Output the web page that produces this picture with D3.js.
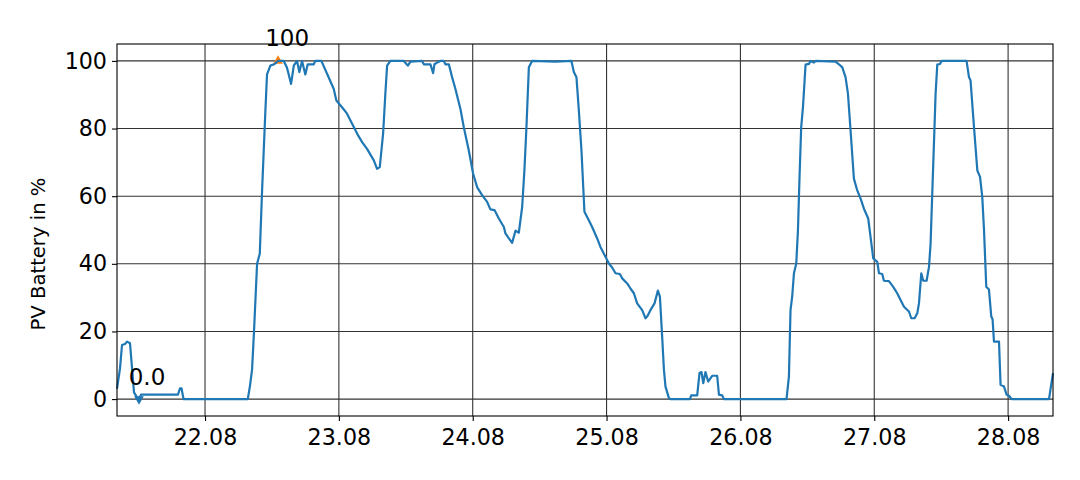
<!DOCTYPE html>
<html><head><meta charset="utf-8">
<script src="https://cdn.jsdelivr.net/npm/d3@7"></script>
<style>
body{margin:0;background:#fff;}
svg{display:block;font-family:"DejaVu Sans",sans-serif;}
</style></head>
<body><svg id="c" width="1080" height="480"></svg>
<script>
const stamps = ["21.08 08:13","21.08 08:45","21.08 09:07","21.08 09:39","21.08 10:01","21.08 10:33","21.08 11:16","21.08 11:48","21.08 12:10","21.08 12:31","21.08 12:53","21.08 19:09","21.08 19:31","21.08 19:47","21.08 20:09",
"22.08 07:40","22.08 08:04","22.08 08:26","22.08 08:47","22.08 09:20","22.08 09:49","22.08 10:13","22.08 10:49","22.08 11:07","22.08 11:43","22.08 12:23","22.08 13:06","22.08 14:07","22.08 14:42","22.08 15:26","22.08 15:55","22.08 16:30","22.08 16:55","22.08 17:24","22.08 17:59","22.08 18:25","22.08 19:30","22.08 19:47","22.08 20:52","22.08 21:53","22.08 23:05","22.08 23:33",
"23.08 00:34","23.08 01:28","23.08 03:16","23.08 04:10","23.08 05:03","23.08 06:16","23.08 06:51","23.08 07:20","23.08 07:56","23.08 08:20","23.08 08:39","23.08 09:14","23.08 11:38","23.08 12:22","23.08 12:50","23.08 14:55","23.08 15:14","23.08 16:25","23.08 16:54","23.08 17:08","23.08 17:37","23.08 18:12","23.08 18:49","23.08 19:06","23.08 19:43","23.08 20:18","23.08 20:54","23.08 21:20","23.08 21:48","23.08 22:24","23.08 23:18",
"24.08 00:04","24.08 00:47","24.08 01:41","24.08 02:35","24.08 03:10","24.08 03:54","24.08 04:41","24.08 05:35","24.08 05:52","24.08 06:29","24.08 07:04","24.08 07:40","24.08 08:16","24.08 08:52","24.08 09:16","24.08 09:38","24.08 10:04","24.08 10:39","24.08 14:50","24.08 17:42","24.08 18:08","24.08 18:36","24.08 19:02","24.08 19:30","24.08 20:02","24.08 20:49","24.08 21:25","24.08 22:19","24.08 22:54","24.08 23:48",
"25.08 00:25","25.08 01:00","25.08 01:36","25.08 02:23","25.08 02:48","25.08 03:42","25.08 04:17","25.08 04:54","25.08 05:29","25.08 06:23","25.08 06:59","25.08 07:17","25.08 07:52","25.08 08:36","25.08 09:12","25.08 09:34","25.08 09:58","25.08 10:17","25.08 10:34","25.08 11:11","25.08 11:28","25.08 14:57","25.08 15:11","25.08 16:15","25.08 16:40","25.08 17:01","25.08 17:20","25.08 17:44","25.08 18:13","25.08 18:56","25.08 19:50","25.08 20:09","25.08 20:44","25.08 21:02",
"26.08 08:16","26.08 08:42","26.08 08:59","26.08 09:17","26.08 09:36","26.08 10:01","26.08 10:19","26.08 10:36","26.08 10:54","26.08 11:13","26.08 11:41","26.08 12:17","26.08 12:34","26.08 13:11","26.08 13:28","26.08 17:03","26.08 17:40","26.08 18:16","26.08 18:51","26.08 19:17","26.08 19:45","26.08 20:21","26.08 20:57","26.08 21:33","26.08 22:09","26.08 22:55","26.08 23:20","26.08 23:49",
"27.08 00:32","27.08 00:51","27.08 01:26","27.08 01:44","27.08 02:38","27.08 03:24","27.08 04:07","27.08 04:43","27.08 05:20","27.08 06:13","27.08 06:38","27.08 07:14","27.08 07:43","27.08 08:01","27.08 08:26","27.08 08:47","27.08 09:23","27.08 09:49","27.08 10:06","27.08 10:24","27.08 10:42","27.08 11:00","27.08 11:18","27.08 11:47","27.08 12:04","27.08 16:33","27.08 16:59","27.08 17:16","27.08 17:53","27.08 18:29","27.08 18:58","27.08 19:22","27.08 19:41","27.08 20:05","27.08 20:34","27.08 20:59","27.08 21:13","27.08 21:28","27.08 22:22","27.08 22:39","27.08 23:16","27.08 23:44",
"28.08 00:10","28.08 00:38","28.08 07:20","28.08 08:03"];
const battery = [3,9,16,16.3,17,16.5,2,0.5,0,1.3,1.3,1.3,3.2,3.2,0,
0,4,8.7,20,40,43,61,85,96,98.6,99,100,100,98,93.2,98.6,100,96.7,100,96,99,99,100,100,96.2,91.7,88.3,
86.3,84.4,78.5,76,74,70.6,68.1,68.6,78.5,90.3,98.6,100,100,98.6,99.8,100,99,99,96.4,99,99.5,100,100,99,99,95.2,91.7,88.8,85.8,80.4,73.5,
66.7,62.7,60.3,58.3,56.1,55.9,53.4,50.9,49,47.5,46.2,49.8,49.2,56.8,67.6,80.4,98.1,100,99.8,100,96.7,95.2,85.3,73.5,55.4,52.9,50.9,47.5,45,42.1,
40.1,38.9,37.2,37,35.7,34.2,32.7,31.3,28.3,26.3,23.9,24.4,26.3,28.3,32.1,30.3,18.5,8.7,3.7,0.3,0,0,1.1,1.1,7.7,8,4.7,8,5.2,6.9,6.9,1.3,1.1,0,
0,6.7,26.3,30.3,37.2,40.1,49.9,65.7,80.4,86.3,98.9,99.1,100,99.5,100,99.8,99,98.1,95.2,90.3,79.5,65.2,61.7,59.3,56.3,53.4,48,41.6,
40.6,37.2,37,35,34.9,33.2,31.3,29.3,27.3,25.9,23.9,23.9,25.4,28.3,37.2,35,35,39.1,46,60.8,75.5,90.3,98.9,99.1,100,100,95.2,94.2,80.4,67.6,65.7,59.8,49.9,33.2,32.4,24.4,23.6,17,17,4.2,3.7,1.3,
1,0,0,7.7];
const xTickLabels = ["22.08","23.08","24.08","25.08","26.08","27.08","28.08"];
const yTicks = [0,20,40,60,80,100];
const yLabel = "PV Battery in %";

const parse = d3.timeParse("%d.%m.%Y %H:%M");
const data = stamps.map((s,i)=>({t: parse(s.replace(" ", ".2023 ")), v: battery[i]}));

const FS = 22.2, FA = 23, FL = 19.6;
const m = {l:117, t:44, r:1053, b:416};
const svg = d3.select("#c");
svg.append("rect").attr("width",1080).attr("height",480).attr("fill","#fff");

const x = d3.scaleTime().domain(d3.extent(data, d=>d.t)).range([m.l, m.r]);
const y = d3.scaleLinear().domain([-5, 105]).range([m.b, m.t]);
const xTicks = xTickLabels.map(s=>parse(s+".2023 00:00"));

// grid
const g = svg.append("g");
g.selectAll(".gx").data(xTicks).join("line")
  .attr("x1",d=>x(d)).attr("x2",d=>x(d)).attr("y1",m.t).attr("y2",m.b)
  .attr("stroke","#333").attr("stroke-width",1.1);
g.selectAll(".gy").data(yTicks).join("line")
  .attr("x1",m.l).attr("x2",m.r).attr("y1",d=>y(d)).attr("y2",d=>y(d))
  .attr("stroke","#333").attr("stroke-width",1.1);

// extreme markers
const iMax = d3.maxIndex(data, d=>d.v), iMin = d3.minIndex(data, d=>d.v);
const tri = d3.symbol().type(d3.symbolTriangle).size(40);
svg.append("path").attr("d",tri())
  .attr("transform",`translate(${x(data[iMax].t)},${y(data[iMax].v)})`).attr("fill","#ff7f0e");
svg.append("path").attr("d",tri())
  .attr("transform",`translate(${x(data[iMin].t)},${y(data[iMin].v)}) rotate(180)`).attr("fill","#1f77b4");

// line
const line = d3.line().x(d=>x(d.t)).y(d=>y(d.v));
svg.append("path").datum(data).attr("d",line).attr("fill","none")
  .attr("stroke","#1f77b4").attr("stroke-width",2.2).attr("stroke-linejoin","round");

// annotations
svg.append("text").attr("x",x(data[iMax].t)+9).attr("y",y(data[iMax].v)-15)
  .attr("text-anchor","middle").attr("font-size",FA).text(d3.format(".0f")(data[iMax].v));
svg.append("text").attr("x",x(data[iMin].t)+8).attr("y",y(data[iMin].v)-14)
  .attr("text-anchor","middle").attr("font-size",FA).text(d3.format(".1f")(data[iMin].v));

// frame
svg.append("rect").attr("x",m.l).attr("y",m.t).attr("width",m.r-m.l).attr("height",m.b-m.t)
  .attr("fill","none").attr("stroke","#000").attr("stroke-width",1.1);

// axes
const xa = svg.append("g").attr("transform",`translate(0,${m.b})`)
  .call(d3.axisBottom(x).tickValues(xTicks).tickFormat(d3.timeFormat("%d.%m")).tickSize(5).tickPadding(5));
const ya = svg.append("g").attr("transform",`translate(${m.l},0)`)
  .call(d3.axisLeft(y).tickValues(yTicks).tickSize(5).tickPadding(5));
[xa,ya].forEach(a=>{
  a.select(".domain").remove();
  a.selectAll("text").attr("font-size",FS).attr("font-family","DejaVu Sans").attr("fill","#000");
  a.selectAll("line").attr("stroke","#000").attr("stroke-width",1.1);
});
xa.selectAll("text").attr("dy","0.85em");

svg.append("text").attr("transform",`translate(45,254) rotate(-90)`)
  .attr("text-anchor","middle").attr("font-size",FL).text(yLabel);
</script></body></html>
